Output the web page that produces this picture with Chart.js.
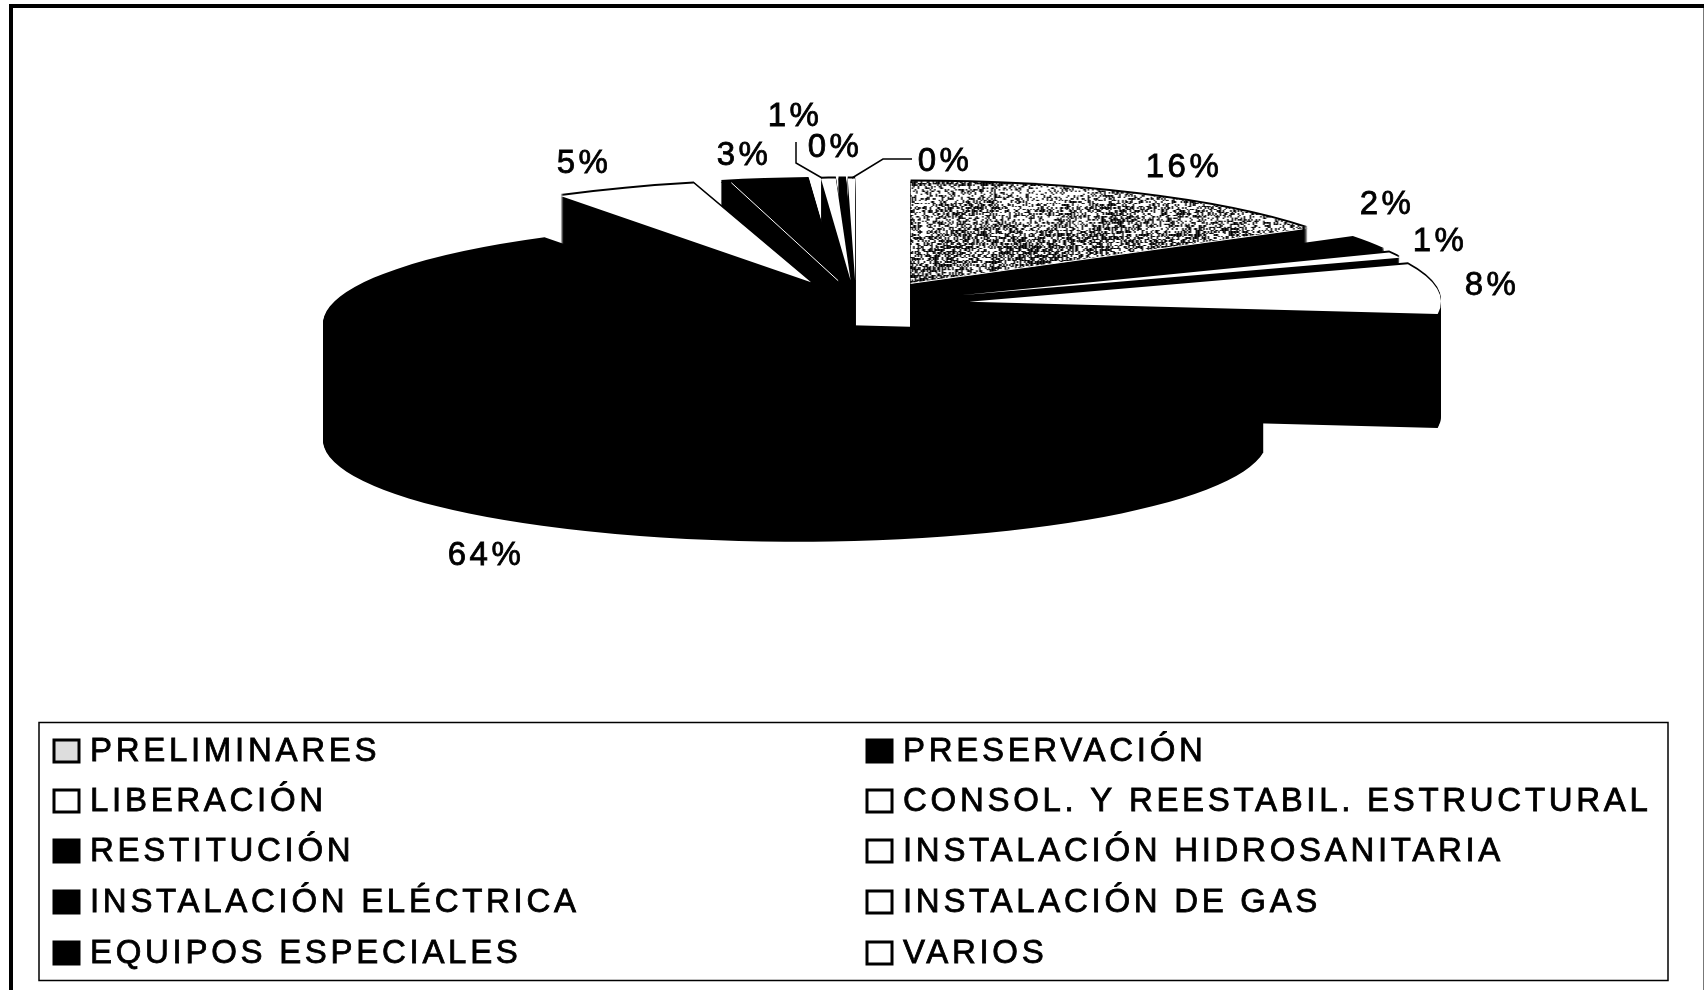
<!DOCTYPE html>
<html><head><meta charset="utf-8">
<style>html,body{margin:0;padding:0;background:#fff}canvas{display:block}</style>
<script src="https://cdn.jsdelivr.net/npm/chart.js@4"></script>
</head><body>
<canvas id="c" width="1704" height="990"></canvas>
<script>
const categories = ['PRELIMINARES','PRESERVACIÓN','LIBERACIÓN','CONSOL. Y REESTABIL. ESTRUCTURAL','RESTITUCIÓN','INSTALACIÓN HIDROSANITARIA','INSTALACIÓN ELÉCTRICA','INSTALACIÓN DE GAS','EQUIPOS ESPECIALES','VARIOS'];
const shares = [15.9,2.2,0.9,7.9,64.2,4.9,3,0.5,0.25,0.25];

// layout
const CX=856, CY=305, R=472, K=0.216, EXPLODE=114, DEPTH=114;
const labelSpots=[[1184,168],[1387,205],[1440,242],[1492,286],[486,556],[584,164],[744,156],[795,117],[835,148],[945,162]];
const leaders=[[[796,142],[796,163],[822,178]],[[912,159],[883,159],[852,178]]];

function speckle(){
  const W=512,H=475,CW=1.5,CH=7,t=document.createElement('canvas');t.width=W;t.height=H;
  const g=t.getContext('2d');g.fillStyle='#fff';g.fillRect(0,0,W,H);g.fillStyle='#000';
  let s=12345;const rnd=()=>{s=(s*1103515245+12345)&0x7fffffff;return s/0x7fffffff;};
  for(let y=0;y<H;y+=CH){for(let x=0;x<W;x+=CW){
    const v=(((y-323+475)%475)/475);
    const cl=0.12*Math.sin(x/23)*Math.sin(y/60+x/40);
    if(rnd()<0.3+0.33*v+cl){g.fillRect(x,y,CW,CH);}
  }}
  return g.createPattern(t,'repeat');
}
const FILLS=[speckle(),'#000','#fff','#fff','#000','#fff','#000','#fff','#000','#fff'];
const SIDE={backgroundColor:'#000',borderColor:'#000',borderWidth:0,borderAlign:'center',borderJoinStyle:'round',borderDash:[],borderDashOffset:0,offset:0,spacing:0,circular:true,selfJoin:false};

function place(ctx,arc,dy){
  const a=(arc.startAngle+arc.endAngle)/2;
  ctx.translate(CX,CY+dy);ctx.scale(1,K);ctx.translate(-CX,-CY);
  ctx.translate(Math.cos(a)*EXPLODE,Math.sin(a)*EXPLODE);
}
function drawArc(ctx,arc,opts,dy){
  const saved=arc.options;
  ctx.save();
  place(ctx,arc,dy);
  if(opts)arc.options=opts;
  arc.draw(ctx);
  arc.options=saved;
  ctx.restore();
}
function hairline(ctx,arc,angle){
  ctx.save();
  place(ctx,arc,0);
  ctx.beginPath();
  ctx.moveTo(arc.x,arc.y);
  ctx.lineTo(arc.x+Math.cos(angle)*(arc.outerRadius-6),arc.y+Math.sin(angle)*(arc.outerRadius-6));
  ctx.restore();
  ctx.strokeStyle='#fff';ctx.lineWidth=1;ctx.stroke();
}
const pie3d={id:'pie3d',
  beforeDatasetDraw(chart){
    const ctx=chart.ctx, all=chart.getDatasetMeta(0).data, arcs=all.slice();
    arcs.sort((p,q)=>Math.sin((p.startAngle+p.endAngle)/2)-Math.sin((q.startAngle+q.endAngle)/2));
    arcs.forEach(arc=>{
      for(let d=DEPTH;d>=-2;d-=1){drawArc(ctx,arc,SIDE,d);}
      drawArc(ctx,arc,null,0);
      if(arc===all[0])hairline(ctx,arc,arc.endAngle);
      if(arc===all[6])hairline(ctx,arc,arc.startAngle+0.02);
    });
    return false;
  },
  afterDraw(chart){
    const ctx=chart.ctx;
    ctx.save();
    // outer frame
    ctx.fillStyle='#000';
    ctx.fillRect(9,4,1695,4);
    ctx.fillRect(9,4,4,986);
    ctx.fillStyle='#777';ctx.fillRect(1703,8,1,982);
    // percent labels
    ctx.fillStyle='#000';ctx.strokeStyle='#000';ctx.textAlign='center';ctx.textBaseline='middle';
    ctx.font='33px "Liberation Sans"';ctx.letterSpacing='3.5px';
    ctx.lineWidth=0.8;
    shares.forEach((v,i)=>{
      const t=Math.round(v)+'%';
      ctx.fillText(t,labelSpots[i][0],labelSpots[i][1]);
      ctx.strokeText(t,labelSpots[i][0],labelSpots[i][1]);
    });
    ctx.lineWidth=1.5;
    leaders.forEach(l=>{ctx.beginPath();l.forEach((p,i)=>i?ctx.lineTo(p[0],p[1]):ctx.moveTo(p[0],p[1]));ctx.stroke();});
    // legend
    ctx.lineWidth=1.5;ctx.strokeRect(39,722.5,1629,258);
    ctx.textAlign='left';ctx.letterSpacing='3.7px';
    const rows=[751,801,851,902,953], colS=[54,867], colT=[90,903];
    categories.forEach((name,i)=>{
      const r=Math.floor(i/2),c=i%2,y=rows[r];
      const black=chart.data.datasets[0].backgroundColor[i]==='#000';
      ctx.fillStyle=i===0?'#ddd':(black?'#000':'#fff');
      ctx.fillRect(colS[c],y-11,25,22);
      ctx.lineWidth=3;ctx.strokeRect(colS[c],y-11,25,22);
      ctx.fillStyle='#000';
      ctx.fillText(name,colT[c],y+1);
      ctx.lineWidth=0.8;ctx.strokeText(name,colT[c],y+1);
    });
    ctx.restore();
  }
};
new Chart(document.getElementById('c'),{
  type:'pie',
  data:{labels:categories,datasets:[{data:shares,backgroundColor:FILLS,borderWidth:0,radius:R}]},
  options:{responsive:false,animation:false,
    layout:{padding:{left:2*CX-1704,right:0,top:0,bottom:990-2*CY}},
    plugins:{legend:{display:false},tooltip:{enabled:false}}},
  plugins:[pie3d]
});
</script>
</body></html>
